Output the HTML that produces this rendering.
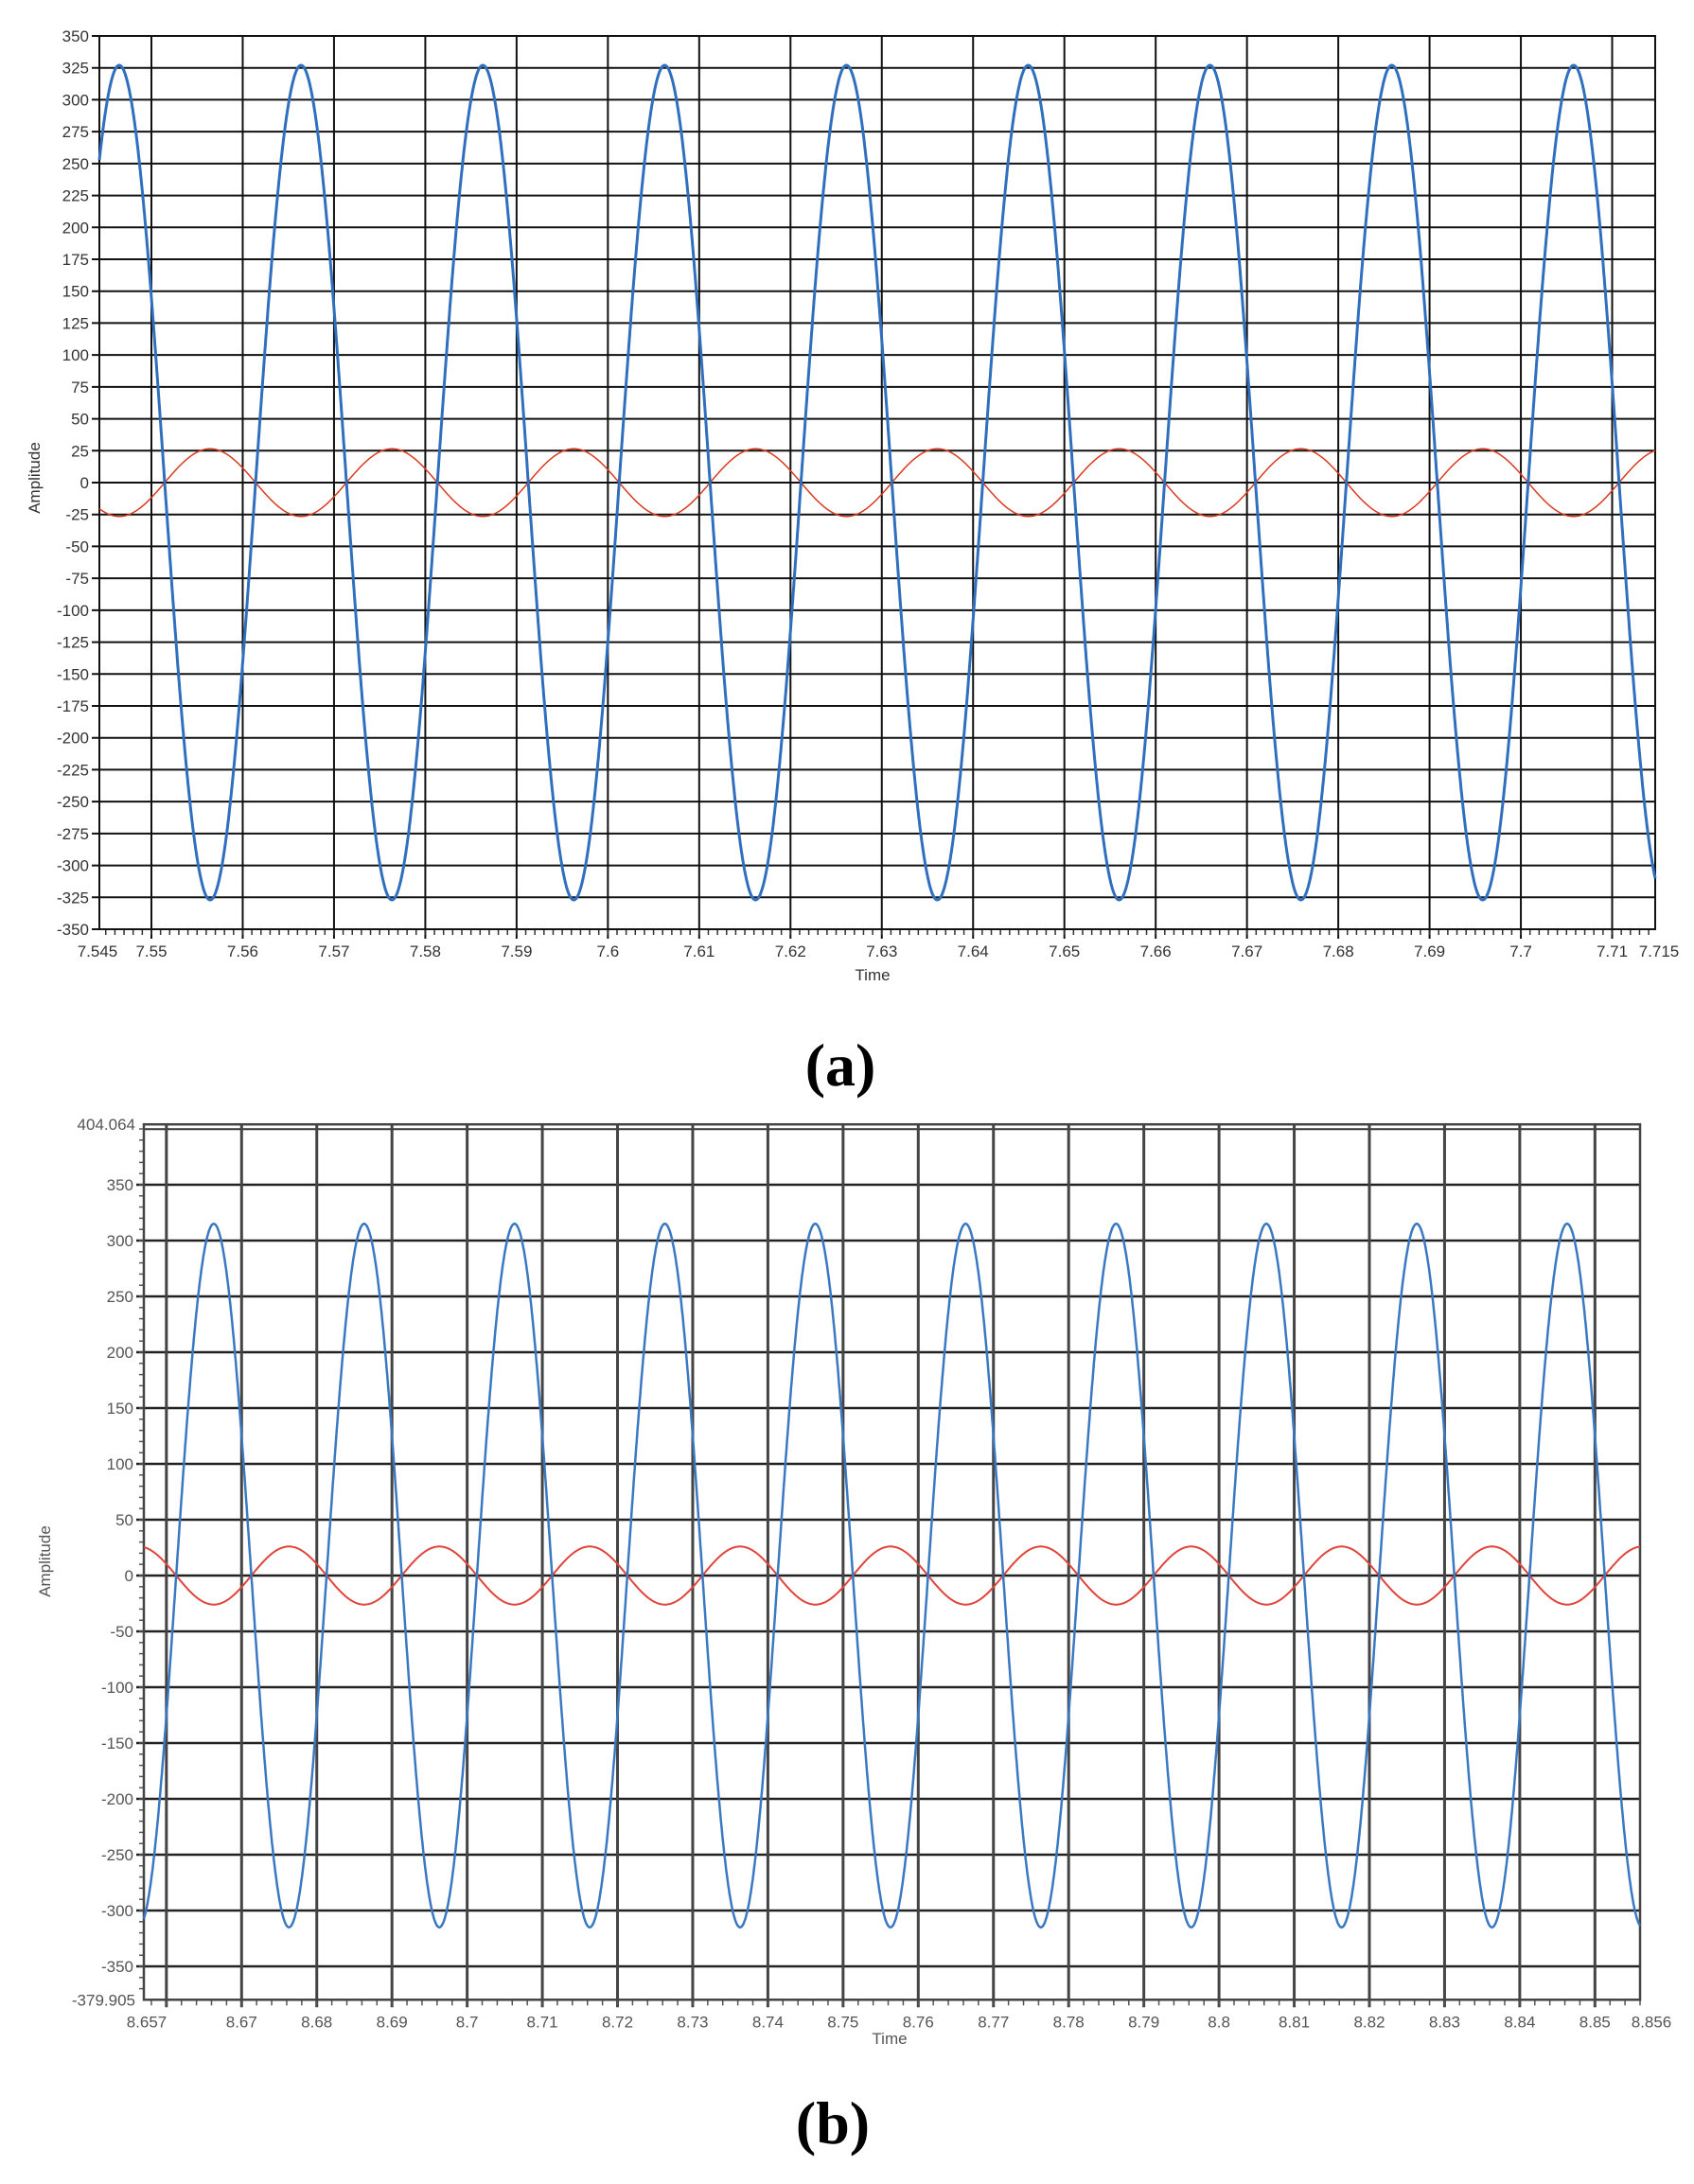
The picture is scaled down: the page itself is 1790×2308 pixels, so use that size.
<!DOCTYPE html>
<html><head><meta charset="utf-8"><style>
html,body{margin:0;padding:0;background:#fff;}
svg{display:block;}
text{font-family:"Liberation Sans",sans-serif;}
</style></head><body>
<svg id="s" width="1790" height="2308" xmlns="http://www.w3.org/2000/svg">
<text x="888" y="1147" font-family="Liberation Serif" font-weight="bold" font-size="64" text-anchor="middle" style="font-family:'Liberation Serif',serif">(a)</text>
<text x="880" y="2265" font-family="Liberation Serif" font-weight="bold" font-size="64" text-anchor="middle" style="font-family:'Liberation Serif',serif">(b)</text>
</svg>
<script>
const S=document.getElementById('s');const NS='http://www.w3.org/2000/svg';
function el(n,a,t){const e=document.createElementNS(NS,n);for(const k in a)e.setAttribute(k,a[k]);if(t!==undefined)e.textContent=t;S.appendChild(e);return e;}
function fmt(v){return (Math.round(v*1000)/1000).toString();}
// Chart A
(function(){
 const L=105,R=1749,T=38,B=982,y0=350,y1=-350;
 const X=t=>160+(t-7.55)*9647, Y=v=>T+(y0-v)/(y0-y1)*(B-T);
 for(let v=-350;v<=350;v+=25){const y=Y(v);el('line',{x1:L-8,x2:R,y1:y,y2:y,stroke:'#111','stroke-width':2});
  el('text',{x:L-11,y:y+6,'font-size':17,'text-anchor':'end',fill:'#333'},v);}
 for(let i=0;i<=16;i++){const t=7.55+i*0.01;const x=X(t);el('line',{x1:x,x2:x,y1:T,y2:B+10,stroke:'#111','stroke-width':2});
  el('text',{x:x,y:B+29,'font-size':17,'text-anchor':'middle',fill:'#333'},fmt(t));}
 for(let k=-5;k<=165;k++){const x=X(7.55+k*0.001);if(x<L||x>R)continue;el('line',{x1:x,x2:x,y1:B,y2:B+6,stroke:'#333','stroke-width':1.5});}
 el('text',{x:L-2,y:B+29,'font-size':17,'text-anchor':'middle',fill:'#333'},'7.545');
 el('text',{x:R+4,y:B+29,'font-size':17,'text-anchor':'middle',fill:'#333'},'7.715');
 el('rect',{x:L,y:T,width:R-L,height:B-T,fill:'none',stroke:'#111','stroke-width':2});
 el('text',{x:922,y:1036,'font-size':17,'text-anchor':'middle',fill:'#333'},'Time');
 el('text',{x:0,y:0,'font-size':17,'text-anchor':'middle',fill:'#333',transform:'translate(42,505) rotate(-90)'},'Amplitude');
 let pb='',pr='';
 for(let i=0;i<=3000;i++){const x=L+(R-L)*i/3000;const ph=2*Math.PI*(x-126)/192.1;
  const b=327*Math.cos(ph), r=-26.5*Math.cos(ph);
  pb+=(i?'L':'M')+x.toFixed(1)+' '+Y(b).toFixed(1);pr+=(i?'L':'M')+x.toFixed(1)+' '+Y(r).toFixed(1);}
 el('path',{d:pr,fill:'none',stroke:'#d93a1e','stroke-width':1.5});
 el('path',{d:pb,fill:'none',stroke:'#2f6fbd','stroke-width':3});
})();
// Chart B
(function(){
 const L=152,R=1733,t0=8.657,t1=8.856,k=1.18,Z=1665;
 const X=t=>L+(t-t0)/(t1-t0)*(R-L), Y=v=>Z-v*k;const T=Y(404.064),B=Y(-379.905);
 for(let v=-350;v<=350;v+=50){const y=Y(v);el('line',{x1:L-8,x2:R,y1:y,y2:y,stroke:'#222','stroke-width':2.5});
  el('text',{x:L-11,y:y+6,'font-size':17,'text-anchor':'end',fill:'#555'},v);}
 for(let v=-370;v<=400;v+=10){const y=Y(v);el('line',{x1:L-5,x2:L,y1:y,y2:y,stroke:'#555','stroke-width':1.5});}
 el('text',{x:L-9,y:T+6,'font-size':17,'text-anchor':'end',fill:'#555'},'404.064');
 el('text',{x:L-9,y:B+6,'font-size':17,'text-anchor':'end',fill:'#555'},'-379.905');
 el('line',{x1:L,x2:R,y1:T+5,y2:T+5,stroke:'#333','stroke-width':2});
 for(let i=1;i<=20;i++){const t=8.65+i*0.01;const x=X(t);el('line',{x1:x,x2:x,y1:T,y2:B+8,stroke:'#444','stroke-width':3});
  if(i>1)el('text',{x:x,y:B+29,'font-size':17,'text-anchor':'middle',fill:'#555'},fmt(t));}
 for(let j=0;j<=99;j++){const x=X(8.658+j*0.002);el('line',{x1:x,x2:x,y1:B,y2:B+6,stroke:'#555','stroke-width':1.5});}
 el('text',{x:L+3,y:B+29,'font-size':17,'text-anchor':'middle',fill:'#555'},'8.657');
 el('text',{x:R+12,y:B+29,'font-size':17,'text-anchor':'middle',fill:'#555'},'8.856');
 el('rect',{x:L,y:T,width:R-L,height:B-T,fill:'none',stroke:'#444','stroke-width':2.5});
 el('text',{x:940,y:2160,'font-size':17,'text-anchor':'middle',fill:'#555'},'Time');
 el('text',{x:0,y:0,'font-size':17,'text-anchor':'middle',fill:'#555',transform:'translate(53,1650) rotate(-90)'},'Amplitude');
 let pb='',pr='';
 for(let i=0;i<=3000;i++){const t=t0+(t1-t0)*i/3000;const ph=2*Math.PI*(t-8.6663)/0.02;
  const b=315*Math.cos(ph), r=-26*Math.cos(ph);
  pb+=(i?'L':'M')+X(t).toFixed(1)+' '+Y(b).toFixed(1);pr+=(i?'L':'M')+X(t).toFixed(1)+' '+Y(r).toFixed(1);}
 el('path',{d:pr,fill:'none',stroke:'#e0443a','stroke-width':2});
 el('path',{d:pb,fill:'none',stroke:'#3a78c2','stroke-width':2.5});
})();
</script>
</body></html>
